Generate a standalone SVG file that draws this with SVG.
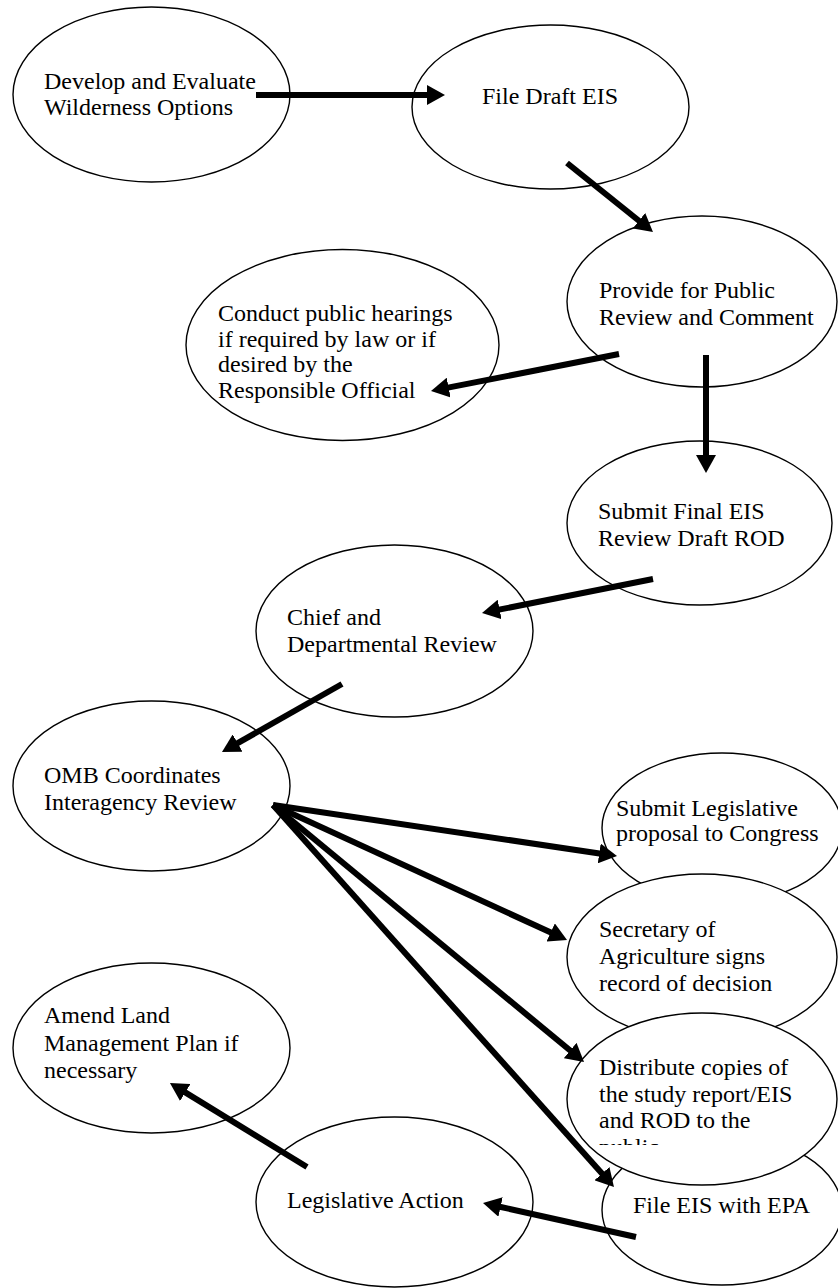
<svg xmlns="http://www.w3.org/2000/svg" width="838" height="1288" viewBox="0 0 838 1288">
<style>
.node{fill:#fff;stroke:#000;stroke-width:1.4}
.lbl{font-family:"Liberation Serif","Times New Roman",serif;font-size:24px;fill:#000}
.arrow{stroke:#000;stroke-width:6;fill:none;marker-end:url(#ah)}
</style>
<defs>
<marker id="ah" viewBox="0 0 18 20" refX="2" refY="10" markerWidth="18" markerHeight="20" markerUnits="userSpaceOnUse" orient="auto">
<path d="M0,0 L18,10 L0,20 z" fill="#000"/>
</marker>
<clipPath id="clipDist"><rect x="560" y="1000" width="278" height="145"/></clipPath>
</defs>
<rect width="838" height="1288" fill="#fff"/>
<g id="n-develop">
<ellipse class="node" cx="151.5" cy="94.5" rx="138.5" ry="87.5"/>
<text class="lbl" x="44" y="89">Develop and Evaluate</text>
<text class="lbl" x="44" y="115">Wilderness Options</text>
</g>
<g id="n-filedraft">
<ellipse class="node" cx="550.5" cy="107" rx="138.5" ry="82"/>
<text class="lbl" x="482" y="104">File Draft EIS</text>
</g>
<g id="n-provide">
<ellipse class="node" cx="702" cy="301.5" rx="135" ry="85.5"/>
<text class="lbl" x="599" y="298">Provide for Public</text>
<text class="lbl" x="599" y="325">Review and Comment</text>
</g>
<g id="n-conduct">
<ellipse class="node" cx="342.5" cy="345" rx="156.5" ry="95.5"/>
<text class="lbl" x="218" y="321">Conduct public hearings</text>
<text class="lbl" x="218" y="346.5">if required by law or if</text>
<text class="lbl" x="218" y="372">desired by the</text>
<text class="lbl" x="218" y="397.5">Responsible Official</text>
</g>
<g id="n-submitfinal">
<ellipse class="node" cx="699.5" cy="523" rx="132.5" ry="82"/>
<text class="lbl" x="598" y="519">Submit Final EIS</text>
<text class="lbl" x="598" y="546">Review Draft ROD</text>
</g>
<g id="n-chief">
<ellipse class="node" cx="394.5" cy="631" rx="138.5" ry="86"/>
<text class="lbl" x="287" y="625">Chief and</text>
<text class="lbl" x="287" y="652">Departmental Review</text>
</g>
<g id="n-omb">
<ellipse class="node" cx="151.5" cy="786" rx="138.5" ry="85"/>
<text class="lbl" x="44" y="783">OMB Coordinates</text>
<text class="lbl" x="44" y="810">Interagency Review</text>
</g>
<g id="n-submitleg">
<ellipse class="node" cx="722" cy="828" rx="120" ry="75"/>
<text class="lbl" x="616" y="816">Submit Legislative</text>
<text class="lbl" x="616" y="841">proposal to Congress</text>
</g>
<g id="n-secretary">
<ellipse class="node" cx="702" cy="957" rx="135" ry="83"/>
<text class="lbl" x="599" y="937">Secretary of</text>
<text class="lbl" x="599" y="964">Agriculture signs</text>
<text class="lbl" x="599" y="991">record of decision</text>
</g>
<g id="n-fileeis">
<ellipse class="node" cx="722" cy="1210" rx="120" ry="75"/>
<text class="lbl" x="633" y="1213">File EIS with EPA</text>
</g>
<g id="n-distribute">
<ellipse class="node" cx="702" cy="1099" rx="135" ry="86"/>
<text class="lbl" x="599" y="1075">Distribute copies of</text>
<text class="lbl" x="599" y="1102">the study report/EIS</text>
<text class="lbl" x="599" y="1128">and ROD to the</text>
<text class="lbl" x="599" y="1155" clip-path="url(#clipDist)">public</text>
</g>
<g id="n-amend">
<ellipse class="node" cx="151.5" cy="1048" rx="138.5" ry="85"/>
<text class="lbl" x="44" y="1023">Amend Land</text>
<text class="lbl" x="44" y="1051">Management Plan if</text>
<text class="lbl" x="44" y="1078">necessary</text>
</g>
<g id="n-legislative">
<ellipse class="node" cx="394.5" cy="1202" rx="138.5" ry="85"/>
<text class="lbl" x="287" y="1208">Legislative Action</text>
</g>
<g id="connectors">
<line class="arrow" x1="256" y1="95" x2="429" y2="95"/>
<line class="arrow" x1="567" y1="163" x2="640.5" y2="222"/>
<line class="arrow" x1="619" y1="354" x2="446.7" y2="387.9"/>
<line class="arrow" x1="706" y1="355" x2="706" y2="457"/>
<line class="arrow" x1="653" y1="579" x2="497.7" y2="609.9"/>
<line class="arrow" x1="342" y1="684" x2="235.9" y2="744.1"/>
<line class="arrow" x1="273" y1="805" x2="601.2" y2="853.7"/>
<line class="arrow" x1="273" y1="805" x2="552.5" y2="933.3"/>
<line class="arrow" x1="273" y1="805" x2="571.7" y2="1051.8"/>
<line class="arrow" x1="273" y1="805" x2="603.3" y2="1175.1"/>
<line class="arrow" x1="636" y1="1237" x2="498.6" y2="1206.5"/>
<line class="arrow" x1="307" y1="1167" x2="183.6" y2="1091.4"/>
</g>
</svg>
